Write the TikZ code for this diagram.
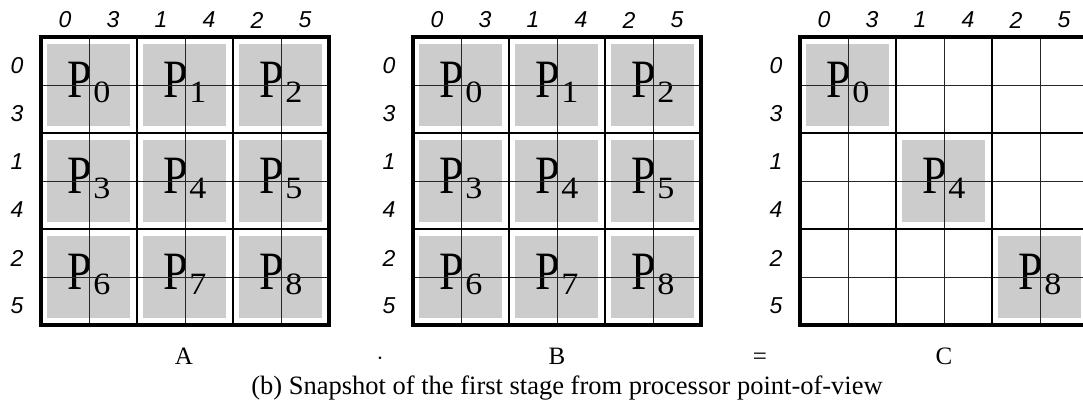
\documentclass[tikz,border=0pt]{standalone}
\usepackage{graphicx}
\usepackage{fontspec}
\setmainfont{Liberation Serif}
\setsansfont{Liberation Sans}
\usepackage{tikz}
\definecolor{procgray}{gray}{0.8}
\newcommand{\procname}[1]{\scalebox{0.82}[1]{P}\kern1pt\raisebox{-5pt}{\scalebox{1.1}[1]{\fontsize{31}{31}\selectfont #1}}}
\tikzset{
    proc-box/.style = {fill=procgray, draw=none},
    cell-line/.style = {line width=1pt, black!85},
    block-line/.style = {line width=2pt, black},
    frame-line/.style = {line width=3.5pt, black},
    index-label/.style = {font=\sffamily\itshape\fontsize{23}{23}\selectfont, inner sep=0pt},
    proc-label/.style = {font=\fontsize{54}{54}\selectfont, inner sep=0pt, anchor=base},
    name-label/.style = {font=\fontsize{25}{25}\selectfont, inner sep=0pt, anchor=base},
}

\begin{document}
\begin{tikzpicture}[x=1pt, y=-1pt]
\useasboundingbox (0,0) rectangle (1083,405);
\clip (0,0) rectangle (1083,405);

% the three matrices A, B and C
\foreach \m/\ox in {A/41, B/413, C/800} {
    % processor blocks
    \foreach \r in {0,1,2} {
        \foreach \c in {0,1,2} {
            \pgfmathtruncatemacro{\p}{3*\r+\c}
            \ifnum\r=\c \def\show{1}\else\def\show{0}\fi
            \if\m C\else\def\show{1}\fi
            \ifnum\show=1
                \fill[proc-box] (\ox+96*\c+6,37+96*\r+7) rectangle (\ox+96*\c+89,37+96*\r+89);
                \node[proc-label] (\m-p\p) at (\ox+96*\c+48,37+96*\r+60) {\procname{\p}};
            \fi
        }
    }
    % cells
    \foreach \k in {1,...,5} {
        \draw[cell-line] (\ox+48*\k,37) -- (\ox+48*\k,325);
        \draw[cell-line] (\ox,37+48*\k) -- (\ox+288,37+48*\k);
    }
    \foreach \k in {2,4} {
        \draw[block-line] (\ox+48*\k,37) -- (\ox+48*\k,325);
        \draw[block-line] (\ox,37+48*\k) -- (\ox+288,37+48*\k);
    }
    \draw[frame-line] (\ox,37) rectangle (\ox+288,325);
    % indices
    \foreach \lab [count=\k from 0] in {0,3,1,4,2,5} {
        \node[index-label] (\m-col\k) at (\ox+24+48*\k,20) {\lab};
        \node[index-label] (\m-row\k) at (\ox-24,66+48*\k) {\lab};
    }
}

\node[name-label] (name-A) at (184,364) {A};
\node[name-label] (times) at (380,364) {$\cdot$};
\node[name-label] (name-B) at (557,364) {B};
\node[name-label] (equals) at (760,364) {=};
\node[name-label] (name-C) at (944,364) {C};
\node[name-label, font=\fontsize{26.5}{26.5}\selectfont] (caption) at (567,394) {(b) Snapshot of the first stage from processor point-of-view};
\end{tikzpicture}
\end{document}
